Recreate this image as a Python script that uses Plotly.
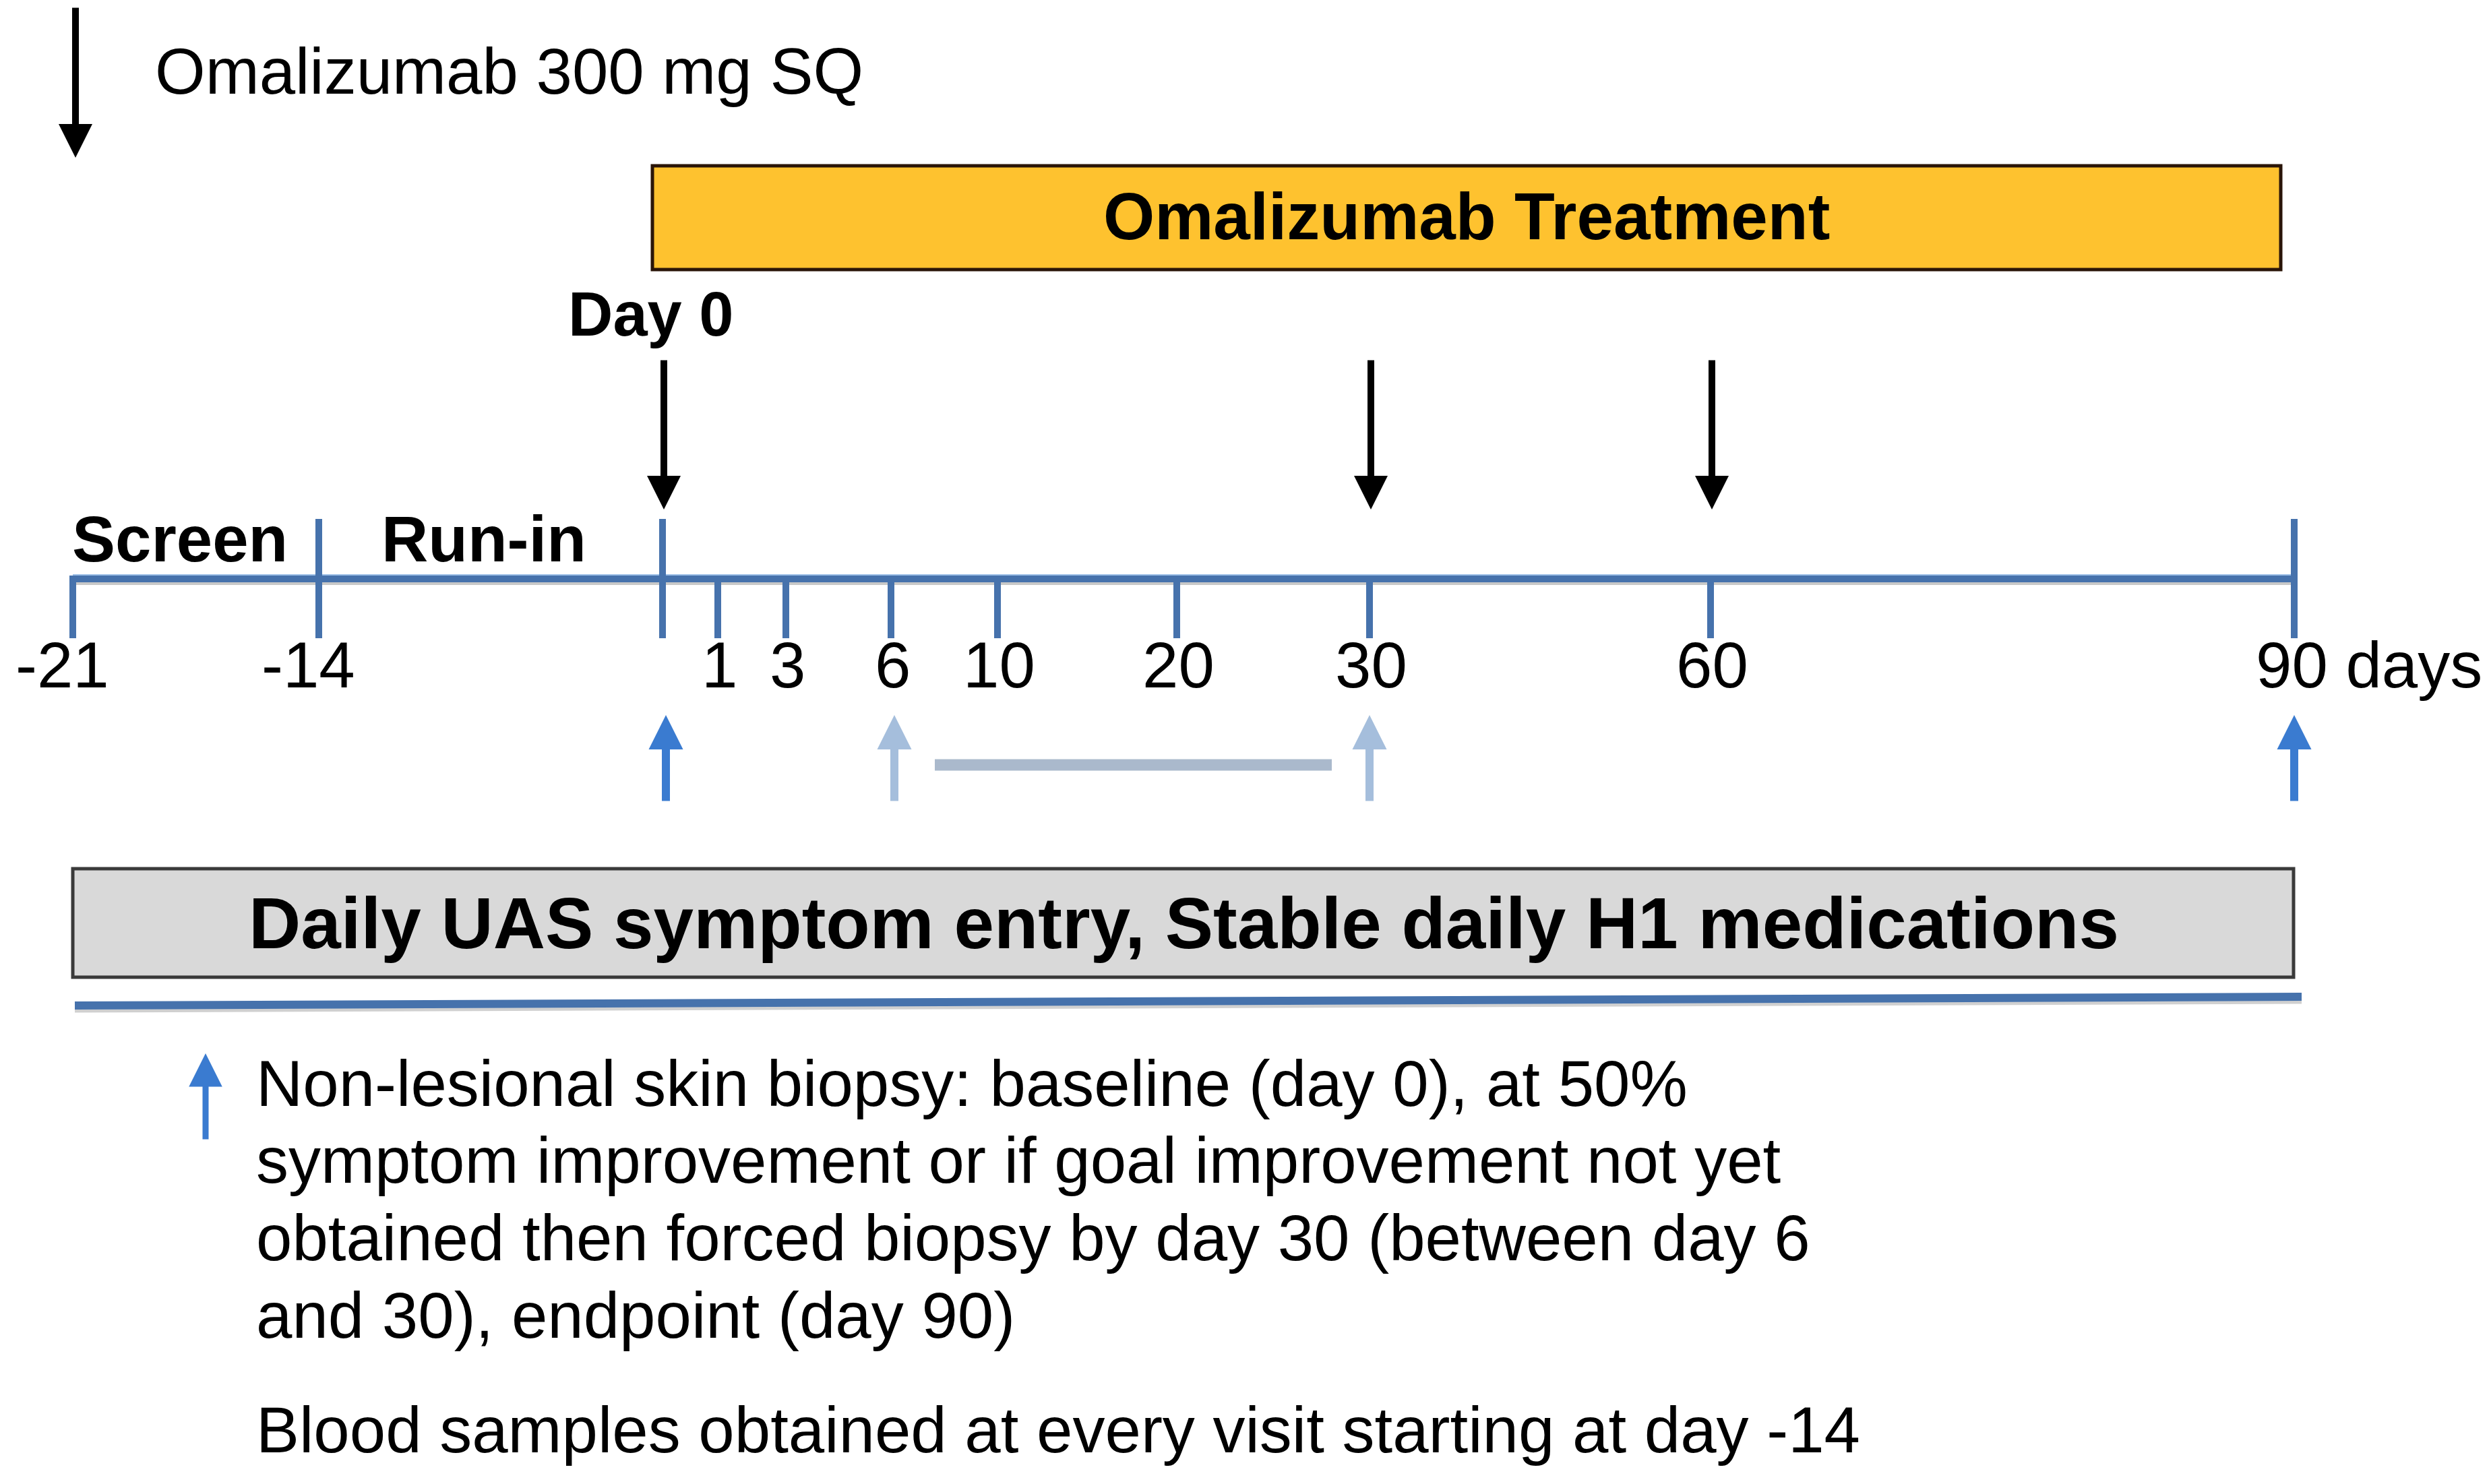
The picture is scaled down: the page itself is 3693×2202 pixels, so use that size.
import plotly.graph_objects as go

# ---------------- data ----------------
W, H = 3693, 2202

day_ticks = [-21, -14, 0, 1, 3, 6, 10, 20, 30, 60, 90]
tick_labels = ["-21", "-14", "", "1", "3", "6", "10", "20", "30", "60", "90 days"]
tall_ticks = [-14, 0, 90]
dose_days = [0, 30, 60]
biopsy_days = [0, 6, 30, 90]
biopsy_kind = ["scheduled", "window", "window", "scheduled"]
window_days = [6, 30]
phase_names = ["Screen", "Run-in"]
treatment_days = [0, 90]

dose_legend = "Omalizumab 300 mg SQ"
treatment_label = "Omalizumab Treatment"
day0_label = "Day 0"
daily_label = "Daily UAS symptom entry, Stable daily H1 medications"
legend_lines = [
    "Non-lesional skin biopsy: baseline (day 0), at 50%",
    "symptom improvement or if goal improvement not yet",
    "obtained then forced biopsy by day 30 (between day 6",
    "and 30), endpoint (day 90)",
]
blood_note = "Blood samples obtained at every visit starting at day -14"

# ---------------- layout (timeline is not to scale) ----------------
tick_x = [108, 473, 983, 1065, 1166, 1322, 1480, 1746, 2032, 2538, 3404]
pos = dict(zip(day_ticks, tick_x))

FONT = "Liberation Sans, Arial, sans-serif"
BLUE = "#4672AC"
BLUE_HI = "#9DBFE6"
ARROW_BLUE = "#3A7BD0"
ARROW_LIGHT = "#A5BEDC"
WINDOW_GRAY = "#AAB9CC"
GOLD = "#FEC22F"
BOX_GRAY = "#D9D9D9"

LINE_Y = 858
TICK_BOTTOM = 947
TALL_TOP = 770

fig = go.Figure()
shapes = []
ann = []

# treatment box
tx0, tx1 = pos[treatment_days[0]] - 15, pos[treatment_days[1]] - 20
shapes.append(dict(type="rect", x0=tx0, x1=tx1, y0=246, y1=400, fillcolor=GOLD,
                   line=dict(color="#2A1508", width=5), layer="below"))
ann.append(dict(x=(tx0 + tx1) / 2, y=321,
                text="<b>" + treatment_label + "</b>", showarrow=False,
                xanchor="center", yanchor="middle",
                font=dict(family=FONT, size=98, color="black")))

# timeline shadow, main line, highlight
x_start, x_end = pos[day_ticks[0]], pos[day_ticks[-1]]
shapes.append(dict(type="line", x0=x_start, x1=x_end, y0=LINE_Y + 8, y1=LINE_Y + 8,
                   line=dict(color="#C8C8C8", width=4)))
shapes.append(dict(type="line", x0=x_start, x1=x_end, y0=LINE_Y, y1=LINE_Y,
                   line=dict(color=BLUE, width=12)))
shapes.append(dict(type="line", x0=x_start, x1=x_end, y0=LINE_Y - 5, y1=LINE_Y - 5,
                   line=dict(color=BLUE_HI, width=2)))

# ticks and labels
for d, lab in zip(day_ticks, tick_labels):
    x = pos[d]
    top = TALL_TOP if d in tall_ticks else LINE_Y - 4
    shapes.append(dict(type="line", x0=x, x1=x, y0=top, y1=TICK_BOTTOM,
                       line=dict(color=BLUE, width=10)))
    if not lab:
        continue
    if lab.endswith("days"):
        ann.append(dict(x=x, y=986, text=lab, showarrow=False, xanchor="left",
                        yanchor="middle", xshift=-0.556 * 96 - 6,
                        font=dict(family=FONT, size=96, color="black")))
    else:
        ann.append(dict(x=x, y=986, text=lab, showarrow=False, xanchor="center",
                        yanchor="middle", xshift=-16 if d < 0 else 2,
                        font=dict(family=FONT, size=96, color="black")))

# phase labels
phase_center = [267, 718]
for name, cx in zip(phase_names, phase_center):
    ann.append(dict(x=cx, y=799, text="<b>" + name + "</b>", showarrow=False,
                    xanchor="center", yanchor="middle",
                    font=dict(family=FONT, size=96, color="black")))

# Day 0 label
ann.append(dict(x=pos[0] - 17, y=466, text="<b>" + day0_label + "</b>", showarrow=False,
                xanchor="center", yanchor="middle",
                font=dict(family=FONT, size=92, color="black")))

# dose arrows (down)
for d in dose_days:
    ann.append(dict(x=pos[d] + 2, y=756, ax=pos[d] + 2, ay=533, xref="x", yref="y",
                    axref="x", ayref="y", text="", showarrow=True,
                    arrowhead=2, arrowsize=1.0, arrowwidth=10, arrowcolor="black"))

# legend dose arrow
ann.append(dict(x=112, y=234, ax=112, ay=10, xref="x", yref="y", axref="x", ayref="y",
                text="", showarrow=True, arrowhead=2, arrowsize=1.0, arrowwidth=10,
                arrowcolor="black"))
ann.append(dict(x=228, y=105, text=dose_legend, showarrow=False, xanchor="left",
                yanchor="middle", font=dict(family=FONT, size=96, color="black")))

# biopsy arrows (up)
for d, k in zip(biopsy_days, biopsy_kind):
    col = ARROW_BLUE if k == "scheduled" else ARROW_LIGHT
    xa = pos[d] + (5 if d in (0, 6) else 0)
    ann.append(dict(x=xa, y=1061, ax=xa, ay=1190, xref="x", yref="y",
                    axref="x", ayref="y", text="", showarrow=True,
                    arrowhead=2, arrowsize=0.85, arrowwidth=12, arrowcolor=col))

# biopsy window bar
shapes.append(dict(type="line", x0=pos[window_days[0]] + 65, x1=pos[window_days[1]] - 56,
                   y0=1135, y1=1135, line=dict(color=WINDOW_GRAY, width=17)))

# daily entry box
shapes.append(dict(type="rect", x0=x_start, x1=x_end - 1, y0=1289, y1=1450,
                   fillcolor=BOX_GRAY, line=dict(color="#3A3A3A", width=5), layer="below"))
ann.append(dict(x=(x_start + x_end) / 2, y=1370, text="<b>" + daily_label + "</b>",
                showarrow=False, xanchor="center", yanchor="middle",
                font=dict(family=FONT, size=107, color="black")))

# underline bar
shapes.append(dict(type="line", x0=x_start + 3, x1=x_end + 11, y0=1500, y1=1487,
                   line=dict(color="#D0D0D0", width=5)))
shapes.append(dict(type="line", x0=x_start + 3, x1=x_end + 11, y0=1492, y1=1479,
                   line=dict(color=BLUE, width=12)))

# legend biopsy arrow and text
ann.append(dict(x=305, y=1563, ax=305, ay=1692, xref="x", yref="y", axref="x", ayref="y",
                text="", showarrow=True, arrowhead=2, arrowsize=1.1, arrowwidth=9,
                arrowcolor=ARROW_BLUE))
line_y = [1607, 1721, 1836, 1951]
for t, y in zip(legend_lines, line_y):
    ann.append(dict(x=378, y=y, text=t, showarrow=False, xanchor="left", yanchor="middle",
                    font=dict(family=FONT, size=96, color="black")))
ann.append(dict(x=378, y=2121, text=blood_note, showarrow=False, xanchor="left",
                yanchor="middle", font=dict(family=FONT, size=96, color="black")))

for s in shapes:
    s.setdefault("xref", "x")
    s.setdefault("yref", "y")

fig.update_layout(
    width=W, height=H,
    margin=dict(l=0, r=0, t=0, b=0),
    paper_bgcolor="white", plot_bgcolor="white",
    xaxis=dict(range=[0, W], visible=False, fixedrange=True),
    yaxis=dict(range=[H, 0], visible=False, fixedrange=True),
    shapes=shapes, annotations=ann, showlegend=False,
)

fig.write_html("out.html",
               config={"displayModeBar": False},
               post_script="document.body.style.margin='0';document.body.style.overflow='hidden';")
